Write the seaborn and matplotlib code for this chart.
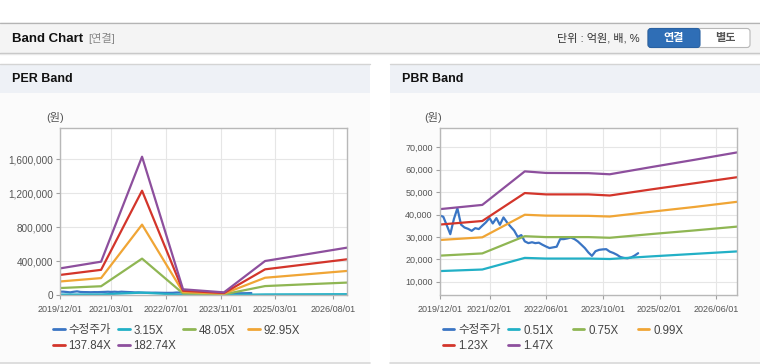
import pandas as pd
import matplotlib.pyplot as plt
import seaborn as sns
from matplotlib.patches import Rectangle, FancyBboxPatch
from matplotlib.lines import Line2D
from matplotlib.ticker import FuncFormatter

# 수정주가 (monthly, 2019/12 ~ 2024/08)
price_dates = pd.date_range('2019-12-01', '2024-08-01', freq='MS')
price = [39600, 39000, 35000, 31200, 38000, 42800, 35500, 34200, 33600, 32700,
         33900, 33500, 35000, 36500, 38400, 36000, 38400, 35400, 38700, 36500,
         34600, 32800, 30000, 30800, 28000, 27200, 27600, 27200,
         27400, 26500, 25700, 25000, 25300, 25600, 29000, 29000, 29300, 29700,
         29000, 28000, 26500, 25000, 23000, 21500, 23600, 24200, 24400, 24500,
         23400, 22800, 22000, 21000, 20600, 20400, 20800, 21600, 22700]

# PER band
per_dates = ['2019-12-01', '2020-12-01', '2021-12-01', '2022-12-01',
             '2023-12-01', '2024-12-01', '2025-12-01', '2026-12-01']
per_labels = ['3.15X', '48.05X', '92.95X', '137.84X', '182.74X']
per_315 = [5400, 6800, 28000, 1200, 500, 6900, 8300, 9600]
per_4805 = [82000, 103000, 428000, 18000, 8000, 105000, 126000, 146000]
per_9295 = [159000, 199000, 828000, 34000, 16000, 203000, 243000, 283000]
per_13784 = [236000, 296000, 1227000, 50000, 23000, 302000, 361000, 420000]
per_18274 = [313000, 392000, 1627000, 67000, 31000, 400000, 478000, 557000]
per_xticks = ['2019/12/01', '2021/03/01', '2022/07/01', '2023/11/01', '2025/03/01', '2026/08/01']
per_yticks = [0, 400000, 800000, 1200000, 1600000]

# PBR band
pbr_dates = ['2019-12-01', '2020-12-01', '2021-12-01', '2022-06-01', '2023-06-01',
             '2023-12-01', '2024-12-01', '2025-12-01', '2026-12-01']
pbr_labels = ['0.51X', '0.75X', '0.99X', '1.23X', '1.47X']
pbr_051 = [14700, 15400, 20600, 20300, 20300, 20100, 21300, 22400, 23500]
pbr_075 = [21600, 22600, 30300, 29900, 29900, 29600, 31300, 32900, 34600]
pbr_099 = [28600, 29800, 39900, 39500, 39400, 39100, 41300, 43400, 45700]
pbr_123 = [35500, 37100, 49600, 49000, 49000, 48500, 51300, 54000, 56700]
pbr_147 = [42400, 44300, 59300, 58600, 58500, 58000, 61300, 64500, 67800]
pbr_xticks = ['2019/12/01', '2021/02/01', '2022/06/01', '2023/10/01', '2025/02/01', '2026/06/01']
pbr_yticks = [10000, 20000, 30000, 40000, 50000, 60000, 70000]

line_colors = ['#3a75c4', '#22b0c6', '#8fb653', '#f0a535', '#d3352b', '#8d4f9d']

sns.set_style('white')
plt.rcParams['font.family'] = ['Liberation Sans', 'Noto Sans CJK KR']

W, H = 760, 364


def fx(x):
    return x / W


def fy(y):
    return 1 - y / H


def long_table(band_dates, labels, bands):
    frames = [pd.DataFrame({'date': price_dates, 'value': price, 'series': '수정주가'})]
    for lab, vals in zip(labels, bands):
        frames.append(pd.DataFrame({'date': pd.to_datetime(band_dates),
                                    'value': vals, 'series': lab}))
    return pd.concat(frames, ignore_index=True)


fig = plt.figure(figsize=(7.6, 3.64), dpi=100)

# page background in pixel units
bg = fig.add_axes([0, 0, 1, 1], zorder=-1)
bg.set_xlim(0, W)
bg.set_ylim(H, 0)
bg.axis('off')

bg.add_patch(Rectangle((0, 22), W, 31, fc='#f4f4f4', ec='none'))
bg.axhline(22.5, color='#b4b4b4', lw=0.9)
bg.axhline(53, color='#c2c2c2', lw=1.0)
bg.axhline(54.2, color='#e8e8e8', lw=1.0)
bg.text(12, 38.5, 'Band Chart', fontsize=9.5, fontweight='bold', va='center', color='#111111')
bg.text(88, 38.5, '[연결]', fontsize=8, va='center', color='#888888')
bg.text(640, 38.5, '단위 : 억원, 배, %', fontsize=8, va='center', ha='right', color='#333333')
bg.add_patch(FancyBboxPatch((648, 28.5), 102, 19, boxstyle='round,pad=0,rounding_size=3',
                            fc='white', ec='#b8b8b8', lw=0.8))
bg.add_patch(FancyBboxPatch((648, 28.5), 52, 19, boxstyle='round,pad=0,rounding_size=3',
                            fc='#2f6eb6', ec='#2a62a3', lw=0.8))
bg.text(674, 38.5, '연결', fontsize=8, fontweight='bold', ha='center', va='center', color='white')
bg.text(725, 38.5, '별도', fontsize=8, fontweight='bold', ha='center', va='center', color='#555555')

for x0, title in [(0, 'PER Band'), (390, 'PBR Band')]:
    bg.add_patch(Rectangle((x0, 64), 370, 298, fc='#fbfbfb', ec='none'))
    bg.add_patch(Rectangle((x0, 64), 370, 29, fc='#eef1f6', ec='none'))
    bg.plot([x0, x0 + 370], [64, 64], color='#d4d4d4', lw=1.0)
    bg.plot([x0, x0 + 370], [362.5, 362.5], color='#d8d8d8', lw=1.2)
    bg.text(x0 + 12, 79.5, title, fontsize=9, fontweight='bold', va='center', color='#111111')

bg.text(55, 117.5, '(원)', fontsize=8, ha='center', va='center', color='#555555')
bg.text(433, 117.5, '(원)', fontsize=8, ha='center', va='center', color='#555555')


def draw_panel(rect, df, labels, xticks, yticks, ylim, ysize, legend_x):
    ax = fig.add_axes([fx(rect[0]), fy(rect[3]), fx(rect[2] - rect[0]), (rect[3] - rect[1]) / H])
    names = ['수정주가'] + labels
    sns.lineplot(data=df, x='date', y='value', hue='series', hue_order=names,
                 palette=line_colors, estimator=None, linewidth=1.6, legend=False, ax=ax)
    ax.set_facecolor('white')
    ax.set_xlim(pd.Timestamp('2019-12-01'), pd.Timestamp('2026-12-01'))
    ax.set_ylim(*ylim)
    ax.set_xticks(pd.to_datetime(xticks))
    ax.set_xticklabels(xticks)
    ax.set_yticks(yticks)
    ax.yaxis.set_major_formatter(FuncFormatter(lambda v, _: f'{v:,.0f}'))
    ax.set_xlabel('')
    ax.set_ylabel('')
    ax.grid(True, color='#e6e6e6', lw=0.8)
    ax.set_axisbelow(True)
    for s in ax.spines.values():
        s.set_color('#b8b8b8')
        s.set_linewidth(1.0)
    ax.tick_params(axis='x', bottom=True, length=3, width=0.8, color='#a0a0a0',
                   pad=4, labelsize=6.5, labelcolor='#555555')
    ax.tick_params(axis='y', left=True, length=3, width=0.8, color='#a0a0a0',
                   pad=2, labelsize=ysize, labelcolor='#555555')

    # legend, four fixed-width columns, two rows
    for j in range(4):
        cols = [k for k in (j, j + 4) if k < len(names)]
        handles = [Line2D([], [], color=line_colors[k], lw=2) for k in cols]
        fig.legend(handles, [names[k] for k in cols], loc='upper left',
                   bbox_to_anchor=(fx(legend_x + 65 * j), fy(324.5)), bbox_transform=fig.transFigure,
                   frameon=False, borderpad=0, borderaxespad=0, handlelength=1.0,
                   handletextpad=0.35, labelspacing=0.3, fontsize=8.3, labelcolor='#444444')
    return ax


per_df = long_table(per_dates, per_labels, [per_315, per_4805, per_9295, per_13784, per_18274])
pbr_df = long_table(pbr_dates, pbr_labels, [pbr_051, pbr_075, pbr_099, pbr_123, pbr_147])

draw_panel((60, 128, 347, 295), per_df, per_labels, per_xticks, per_yticks,
           (0, 1965000), 7.2, 53)
draw_panel((439.7, 128, 737.3, 295), pbr_df, pbr_labels, pbr_xticks, pbr_yticks,
           (4000, 78700), 6.5, 442.7)

fig.savefig('out.png', dpi=100)
plt.close()
